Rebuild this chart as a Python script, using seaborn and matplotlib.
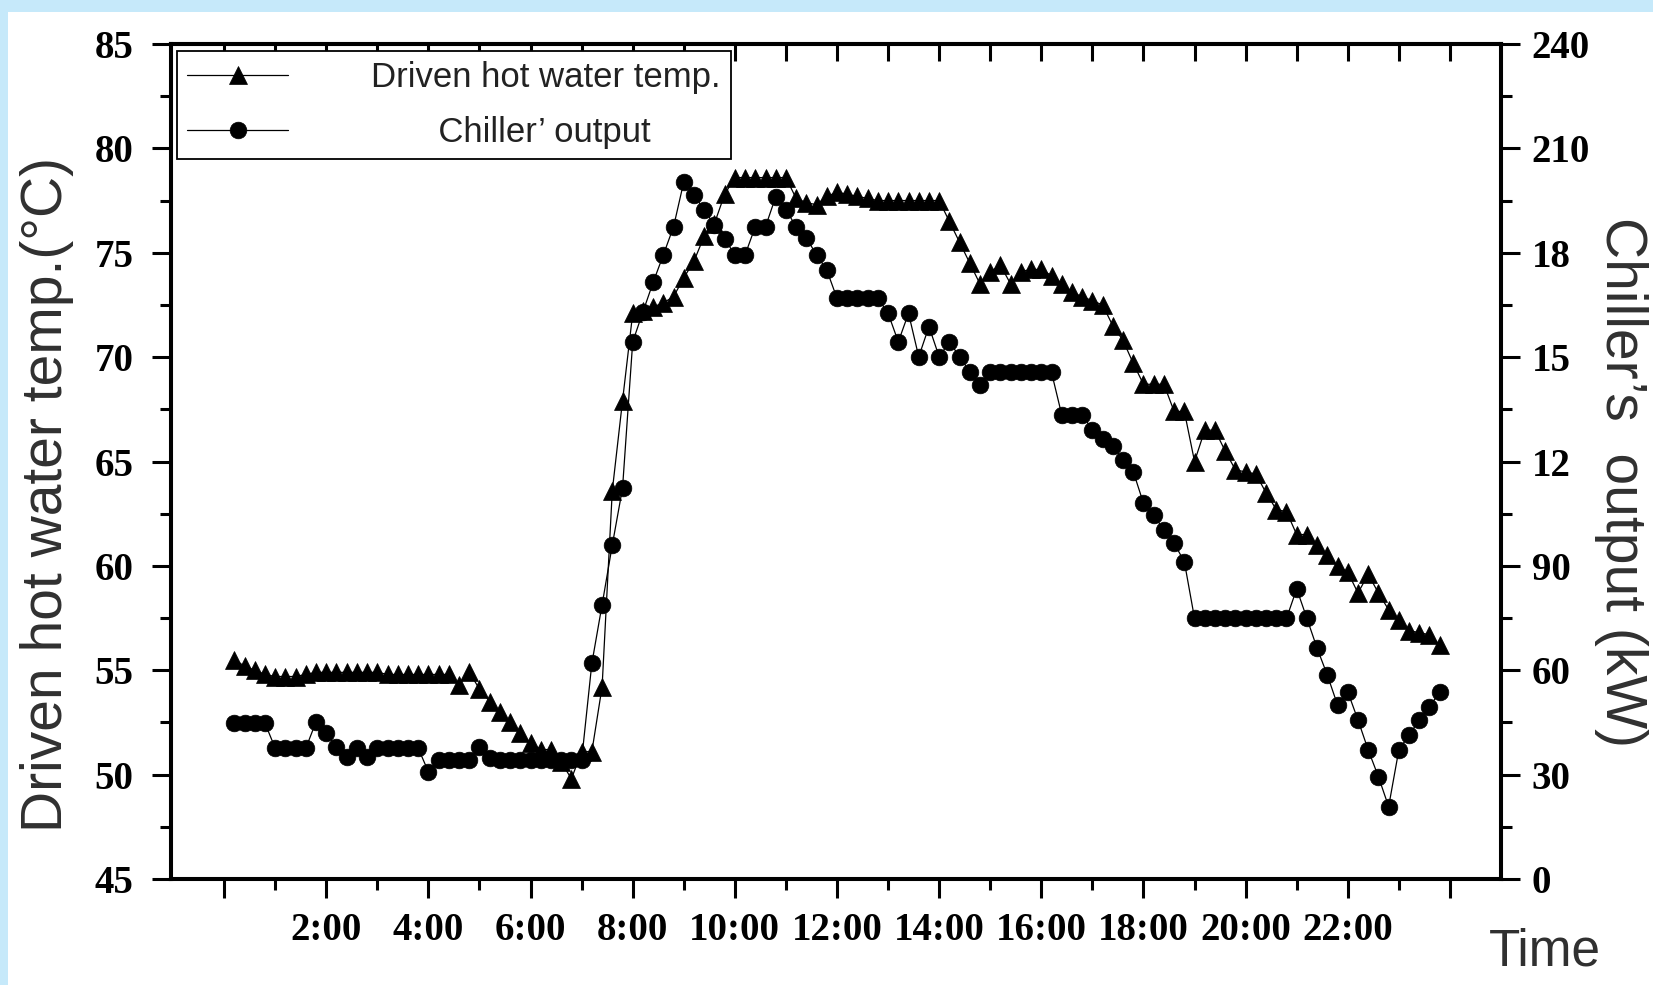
import matplotlib
matplotlib.use("Agg")
import numpy as np
import pandas as pd
import matplotlib.pyplot as plt
from matplotlib import font_manager
from matplotlib.patches import Rectangle
import seaborn as sns

# ---------------- data ----------------
hours = [0.2, 0.4, 0.6, 0.8, 1.0, 1.2, 1.4, 1.6, 1.8, 2.0,
         2.2, 2.4, 2.6, 2.8, 3.0, 3.2, 3.4, 3.6, 3.8, 4.0,
         4.2, 4.4, 4.6, 4.8, 5.0, 5.2, 5.4, 5.6, 5.8, 6.0,
         6.2, 6.4, 6.6, 6.8, 7.0, 7.2, 7.4, 7.6, 7.8, 8.0,
         8.2, 8.4, 8.6, 8.8, 9.0, 9.2, 9.4, 9.6, 9.8, 10.0,
         10.2, 10.4, 10.6, 10.8, 11.0, 11.2, 11.4, 11.6, 11.8, 12.0,
         12.2, 12.4, 12.6, 12.8, 13.0, 13.2, 13.4, 13.6, 13.8, 14.0,
         14.2, 14.4, 14.6, 14.8, 15.0, 15.2, 15.4, 15.6, 15.8, 16.0,
         16.2, 16.4, 16.6, 16.8, 17.0, 17.2, 17.4, 17.6, 17.8, 18.0,
         18.2, 18.4, 18.6, 18.8, 19.0, 19.2, 19.4, 19.6, 19.8, 20.0,
         20.2, 20.4, 20.6, 20.8, 21.0, 21.2, 21.4, 21.6, 21.8, 22.0,
         22.2, 22.4, 22.6, 22.8, 23.0, 23.2, 23.4, 23.6, 23.8]

hot_water_temp = [55.5, 55.2, 55.0, 54.8, 54.7, 54.7, 54.7, 54.8, 54.9, 54.9,
                  54.9, 54.9, 54.9, 54.9, 54.9, 54.8, 54.8, 54.8, 54.8, 54.8,
                  54.8, 54.8, 54.3, 54.9, 54.1, 53.5, 53.0, 52.5, 52.0, 51.5,
                  51.2, 51.2, 50.6, 49.8, 51.1, 51.1, 54.2, 63.6, 67.9, 72.1,
                  72.2, 72.4, 72.6, 72.9, 73.8, 74.6, 75.8, 76.4, 77.8, 78.6,
                  78.6, 78.6, 78.6, 78.6, 78.6, 77.6, 77.4, 77.3, 77.7, 77.9,
                  77.8, 77.7, 77.6, 77.5, 77.5, 77.5, 77.5, 77.5, 77.5, 77.5,
                  76.5, 75.5, 74.5, 73.5, 74.1, 74.4, 73.5, 74.1, 74.2, 74.2,
                  73.9, 73.5, 73.1, 72.9, 72.7, 72.5, 71.5, 70.8, 69.7, 68.7,
                  68.7, 68.7, 67.4, 67.4, 65.0, 66.5, 66.5, 65.5, 64.6, 64.5,
                  64.4, 63.5, 62.7, 62.6, 61.5, 61.5, 61.0, 60.5, 60.0, 59.7,
                  58.7, 59.6, 58.7, 57.9, 57.4, 56.9, 56.8, 56.7, 56.2]

chiller_output = [44.8, 44.8, 44.8, 44.8, 37.6, 37.6, 37.6, 37.6, 45.2, 41.9,
                  38.0, 35.2, 37.6, 35.2, 37.6, 37.6, 37.6, 37.6, 37.6, 30.8,
                  34.2, 34.2, 34.2, 34.2, 38.0, 34.8, 34.2, 34.2, 34.2, 34.2,
                  34.2, 34.2, 34.2, 34.2, 34.2, 62.0, 78.8, 96.0, 112.3, 154.4,
                  163.0, 171.5, 179.4, 187.5, 200.4, 196.6, 192.3, 188.0, 184.0, 179.4,
                  179.4, 187.5, 187.5, 196.1, 192.3, 187.5, 184.2, 179.4, 175.0, 166.9,
                  166.9, 166.9, 166.9, 166.9, 162.6, 154.4, 162.6, 150.1, 158.8, 150.1,
                  154.4, 150.1, 145.8, 142.0, 145.8, 145.6, 145.6, 145.6, 145.6, 145.6,
                  145.6, 133.4, 133.4, 133.4, 129.1, 126.5, 124.5, 120.4, 117.1, 108.0,
                  104.6, 100.3, 96.5, 91.2, 74.9, 74.9, 74.9, 74.9, 74.9, 74.9,
                  74.9, 74.9, 74.9, 74.9, 83.4, 74.9, 66.3, 58.6, 50.0, 53.8,
                  45.7, 37.1, 29.4, 20.8, 37.1, 41.4, 45.7, 49.5, 53.8]

x_major_ticks = [0, 2, 4, 6, 8, 10, 12, 14, 16, 18, 20, 22, 24]
x_minor_ticks = [1, 3, 5, 7, 9, 11, 13, 15, 17, 19, 21, 23]
x_tick_labels = ["", "2:00", "4:00", "6:00", "8:00", "10:00", "12:00", "14:00",
                 "16:00", "18:00", "20:00", "22:00", ""]
left_ticks = [45, 50, 55, 60, 65, 70, 75, 80, 85]
left_minor = [47.5, 52.5, 57.5, 62.5, 67.5, 72.5, 77.5, 82.5]
right_ticks = [0, 30, 60, 90, 120, 150, 180, 210, 240]
right_minor = [15, 45, 75, 105, 135, 165, 195, 225]
right_tick_labels = ["0", "30", "60", "90", "12", "15", "18", "210", "240"]
legend_labels = ["Driven hot water temp.", "Chiller\u2019 output"]

# ---------------- style ----------------
sns.set_theme(style="ticks")
plt.rcParams['font.family'] = ['Liberation Sans', 'DejaVu Sans']
names = {f.name for f in font_manager.fontManager.ttflist}
NARROW = 'Liberation Sans Narrow' in names
time_family = ['Liberation Sans Narrow', 'Liberation Sans'] if NARROW else ['Liberation Sans']
time_size = 42 if NARROW else 37

TICKFONT = dict(fontfamily='Liberation Serif', fontweight='bold', fontsize=28, color='black')
LABEL_COLOR = '#303030'

df = pd.DataFrame({'hour': hours, 'temp': hot_water_temp, 'output': chiller_output})

fig = plt.figure(figsize=(16.53, 9.85), dpi=100, facecolor='#c6e9fa')
fig.add_artist(Rectangle((8 / 1653, 0), 1, 1 - 12 / 985, transform=fig.transFigure,
                         facecolor='white', edgecolor='none', zorder=-5))
ax = fig.add_axes([171 / 1653, 1 - 879 / 985, 1330 / 1653, 835 / 985])
ax.set_facecolor('white')

sns.lineplot(data=df, x='hour', y='temp', ax=ax, color='black', linewidth=0.9,
             marker='^', markersize=13, markeredgecolor='black', markeredgewidth=0.5,
             legend=False, zorder=3)
ax2 = ax.twinx()
sns.lineplot(data=df, x='hour', y='output', ax=ax2, color='black', linewidth=0.9,
             marker='o', markersize=12, markeredgecolor='black', markeredgewidth=0.5,
             legend=False, zorder=3)

ax.set_xlim(-1.04, 25.0)
ax.set_ylim(45, 85)
ax2.set_ylim(0, 240)

ax.set_xticks(x_major_ticks, labels=x_tick_labels, **TICKFONT)
ax.set_xticks(x_minor_ticks, minor=True)
ax.set_yticks(left_ticks, labels=[str(v) for v in left_ticks], **TICKFONT)
ax.set_yticks(left_minor, minor=True)
ax2.set_yticks(right_ticks, labels=right_tick_labels, **TICKFONT)
ax2.set_yticks(right_minor, minor=True)

ax.tick_params(axis='x', which='major', direction='out', length=14, width=2.2, pad=10, colors='black')
ax.tick_params(axis='x', which='minor', direction='out', length=8, width=2.2, colors='black')
ax.tick_params(axis='y', which='major', direction='out', length=14, width=2.2, pad=13,
               colors='black', left=True, right=False)
ax.tick_params(axis='y', which='minor', direction='out', length=8, width=2.2,
               colors='black', left=True, right=False)
ax2.tick_params(axis='y', which='major', direction='out', length=14, width=2.2, pad=8, colors='black')
ax2.tick_params(axis='y', which='minor', direction='out', length=8, width=2.2, colors='black')

top = ax.secondary_xaxis('top')
top.set_xticks(x_major_ticks)
top.set_xticks(x_minor_ticks, minor=True)
top.tick_params(axis='x', which='both', direction='in', length=12, width=2.2,
                labeltop=False, labelbottom=False, colors='black')

for a in (ax, ax2):
    for s in a.spines.values():
        s.set_linewidth(2.9)
        s.set_color('black')
for s in top.spines.values():
    s.set_linewidth(2.9)
    s.set_color('black')

ax.set_ylabel("Driven hot water temp.(\u00b0C)", fontsize=41, color=LABEL_COLOR)
ax.yaxis.set_label_coords(-0.073, 0.46)
ax2.set_ylabel("Chiller\u2019s  output (kW)", fontsize=41, color=LABEL_COLOR,
               rotation=270, va='bottom')
ax2.yaxis.set_label_coords(1.07, 0.475)
ax.set_xlabel("Time", fontsize=time_size, color=LABEL_COLOR, fontfamily=time_family)
ax.xaxis.set_label_coords(1.033, -0.058)

leg = ax2.legend(handles=[ax.lines[0], ax2.lines[0]],
                 labels=[legend_labels[0], "       " + legend_labels[1]],
                 loc='upper left', bbox_to_anchor=(0.0045, 0.9916),
                 frameon=True, fancybox=False, edgecolor='black', framealpha=1,
                 fontsize=25, handlelength=2.9, handletextpad=2.4,
                 borderpad=0.3, labelspacing=0.62, borderaxespad=0)
leg.get_frame().set_linewidth(1.3)
for t in leg.get_texts():
    t.set_color('#222222')

fig.savefig("out.png", dpi=100, facecolor=fig.get_facecolor())
